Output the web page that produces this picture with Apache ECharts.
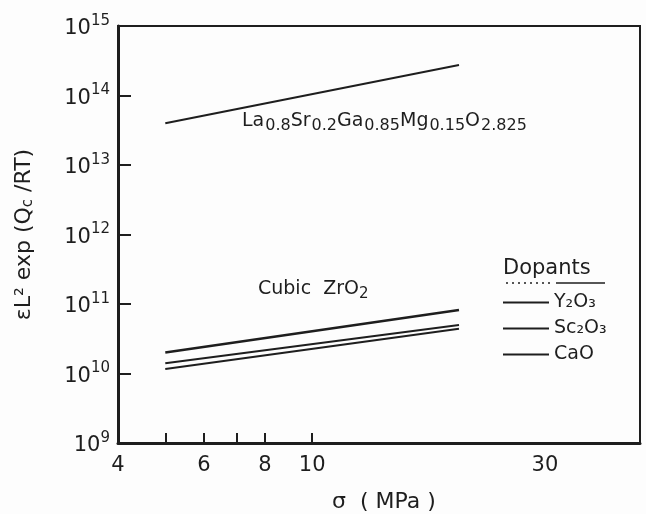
<!DOCTYPE html>
<html>
<head>
<meta charset="utf-8">
<script src="https://cdn.jsdelivr.net/npm/echarts@6/dist/echarts.min.js"></script>
<style>
  html, body { margin: 0; padding: 0; background: #fdfdfd; }
  #chart { width: 646px; height: 514px; }
</style>
</head>
<body>
<div id="chart"></div>
<script>
// stress (MPa), log scale
const stressLSGM = [5, 20];
const valLSGM = [4.0e13, 2.75e14];
const stressZr = [5, 20];
const valY2O3 = [2.0e10, 8.2e10];
const valSc2O3 = [1.4e10, 5.0e10];
const valCaO = [1.16e10, 4.4e10];
const xLabelValues = [4, 6, 8, 10, 30];
const xTickValues = [5, 6, 7, 8, 10];
const dopantNames = ["Y\u2082O\u2083", "Sc\u2082O\u2083", "CaO"];

const font = "DejaVu Sans";
const ink = "#1e1e1e";

let chart = echarts.init(document.getElementById("chart"));

function pairs(xs, ys) {
  return xs.map((x, i) => [x, ys[i]]);
}

let option = {
  animation: false,
  backgroundColor: "#fdfdfd",
  grid: {
    left: 118,
    top: 26,
    right: 6,
    bottom: 71,
    outerBoundsMode: "none",
    containLabel: false,
    show: true,
    borderColor: ink,
    borderWidth: 2
  },
  legend: {
    data: dopantNames,
    orient: "vertical",
    left: 498,
    top: 288,
    itemWidth: 46,
    itemHeight: 10,
    itemGap: 7,
    icon: "path://M0,4 L46,4 L46,6 L0,6 Z",
    textStyle: { fontFamily: font, fontSize: 19, color: ink },
    inactiveColor: ink
  },
  xAxis: {
    type: "log",
    logBase: 10,
    min: 4,
    max: 47,
    axisLine: { lineStyle: { color: ink, width: 3 } },
    axisTick: {
      inside: true,
      length: 10,
      lineStyle: { color: ink, width: 2 },
      customValues: xTickValues
    },
    axisLabel: {
      fontFamily: font,
      fontSize: 21,
      color: ink,
      margin: 12,
      customValues: xLabelValues
    },
    splitLine: { show: false },
    name: "\u03c3  ( MPa )",
    nameLocation: "middle",
    nameGap: 48,
    nameTextStyle: { fontFamily: font, fontSize: 22, color: ink, padding: [0, 0, 0, 10] }
  },
  yAxis: {
    type: "log",
    logBase: 10,
    min: 1e9,
    max: 1e15,
    interval: 1,
    axisLine: { lineStyle: { color: ink, width: 3 } },
    axisTick: { inside: true, length: 13, lineStyle: { color: ink, width: 2 } },
    axisLabel: {
      margin: 8,
      formatter: v => "{b|10}{s|" + Math.round(Math.log10(v)) + "}",
      rich: {
        b: { fontFamily: font, fontSize: 21, color: ink, padding: [6, 0, 0, 0] },
        s: { fontFamily: font, fontSize: 15, color: ink, padding: [0, 0, 10, 0] }
      }
    },
    splitLine: { show: false },
    name: "{t|\u03b5L\u00b2 exp (Q}{u|c}{t| /RT)}",
    nameLocation: "middle",
    nameGap: 82,
    nameTextStyle: {
      rich: {
        t: { fontFamily: font, fontSize: 22, color: ink },
        u: { fontFamily: font, fontSize: 15, color: ink, padding: [8, 0, 0, 0] }
      }
    }
  },
  graphic: [
    {
      type: "text",
      left: 242,
      top: 112,
      style: {
        text: "{t|La}{u|0.8}{t|Sr}{u|0.2}{t|Ga}{u|0.85}{t|Mg}{u|0.15}{t|O}{u|2.825}",
        rich: {
          t: { fontFamily: font, fontSize: 19, fill: ink },
          u: { fontFamily: font, fontSize: 16, fill: ink, padding: [9, 0, 0, 1] }
        }
      }
    },
    {
      type: "text",
      left: 258,
      top: 280,
      style: {
        text: "{t|Cubic  ZrO}{u|2}",
        rich: {
          t: { fontFamily: font, fontSize: 19, fill: ink },
          u: { fontFamily: font, fontSize: 15, fill: ink, padding: [9, 0, 0, 0] }
        }
      }
    },
    {
      type: "text",
      left: 503,
      top: 258,
      style: { text: "Dopants", fontFamily: font, fontSize: 21, fill: ink }
    },
    {
      type: "line",
      shape: { x1: 556, y1: 283, x2: 605, y2: 283 },
      style: { stroke: ink, lineWidth: 1.5 }
    },
    {
      type: "line",
      shape: { x1: 506, y1: 283, x2: 552, y2: 283 },
      style: { stroke: ink, lineWidth: 1.5, lineDash: [2, 4] }
    }
  ],
  series: [
    {
      name: "LSGM",
      type: "line",
      data: pairs(stressLSGM, valLSGM),
      symbol: "none",
      lineStyle: { color: ink, width: 2 }
    },
    {
      name: dopantNames[0],
      type: "line",
      data: pairs(stressZr, valY2O3),
      symbol: "none",
      itemStyle: { color: ink },
      lineStyle: { color: ink, width: 2.5 }
    },
    {
      name: dopantNames[1],
      type: "line",
      data: pairs(stressZr, valSc2O3),
      symbol: "none",
      itemStyle: { color: ink },
      lineStyle: { color: ink, width: 2 }
    },
    {
      name: dopantNames[2],
      type: "line",
      data: pairs(stressZr, valCaO),
      symbol: "none",
      itemStyle: { color: ink },
      lineStyle: { color: ink, width: 2 }
    }
  ]
};
chart.setOption(option);
</script>
</body>
</html>
